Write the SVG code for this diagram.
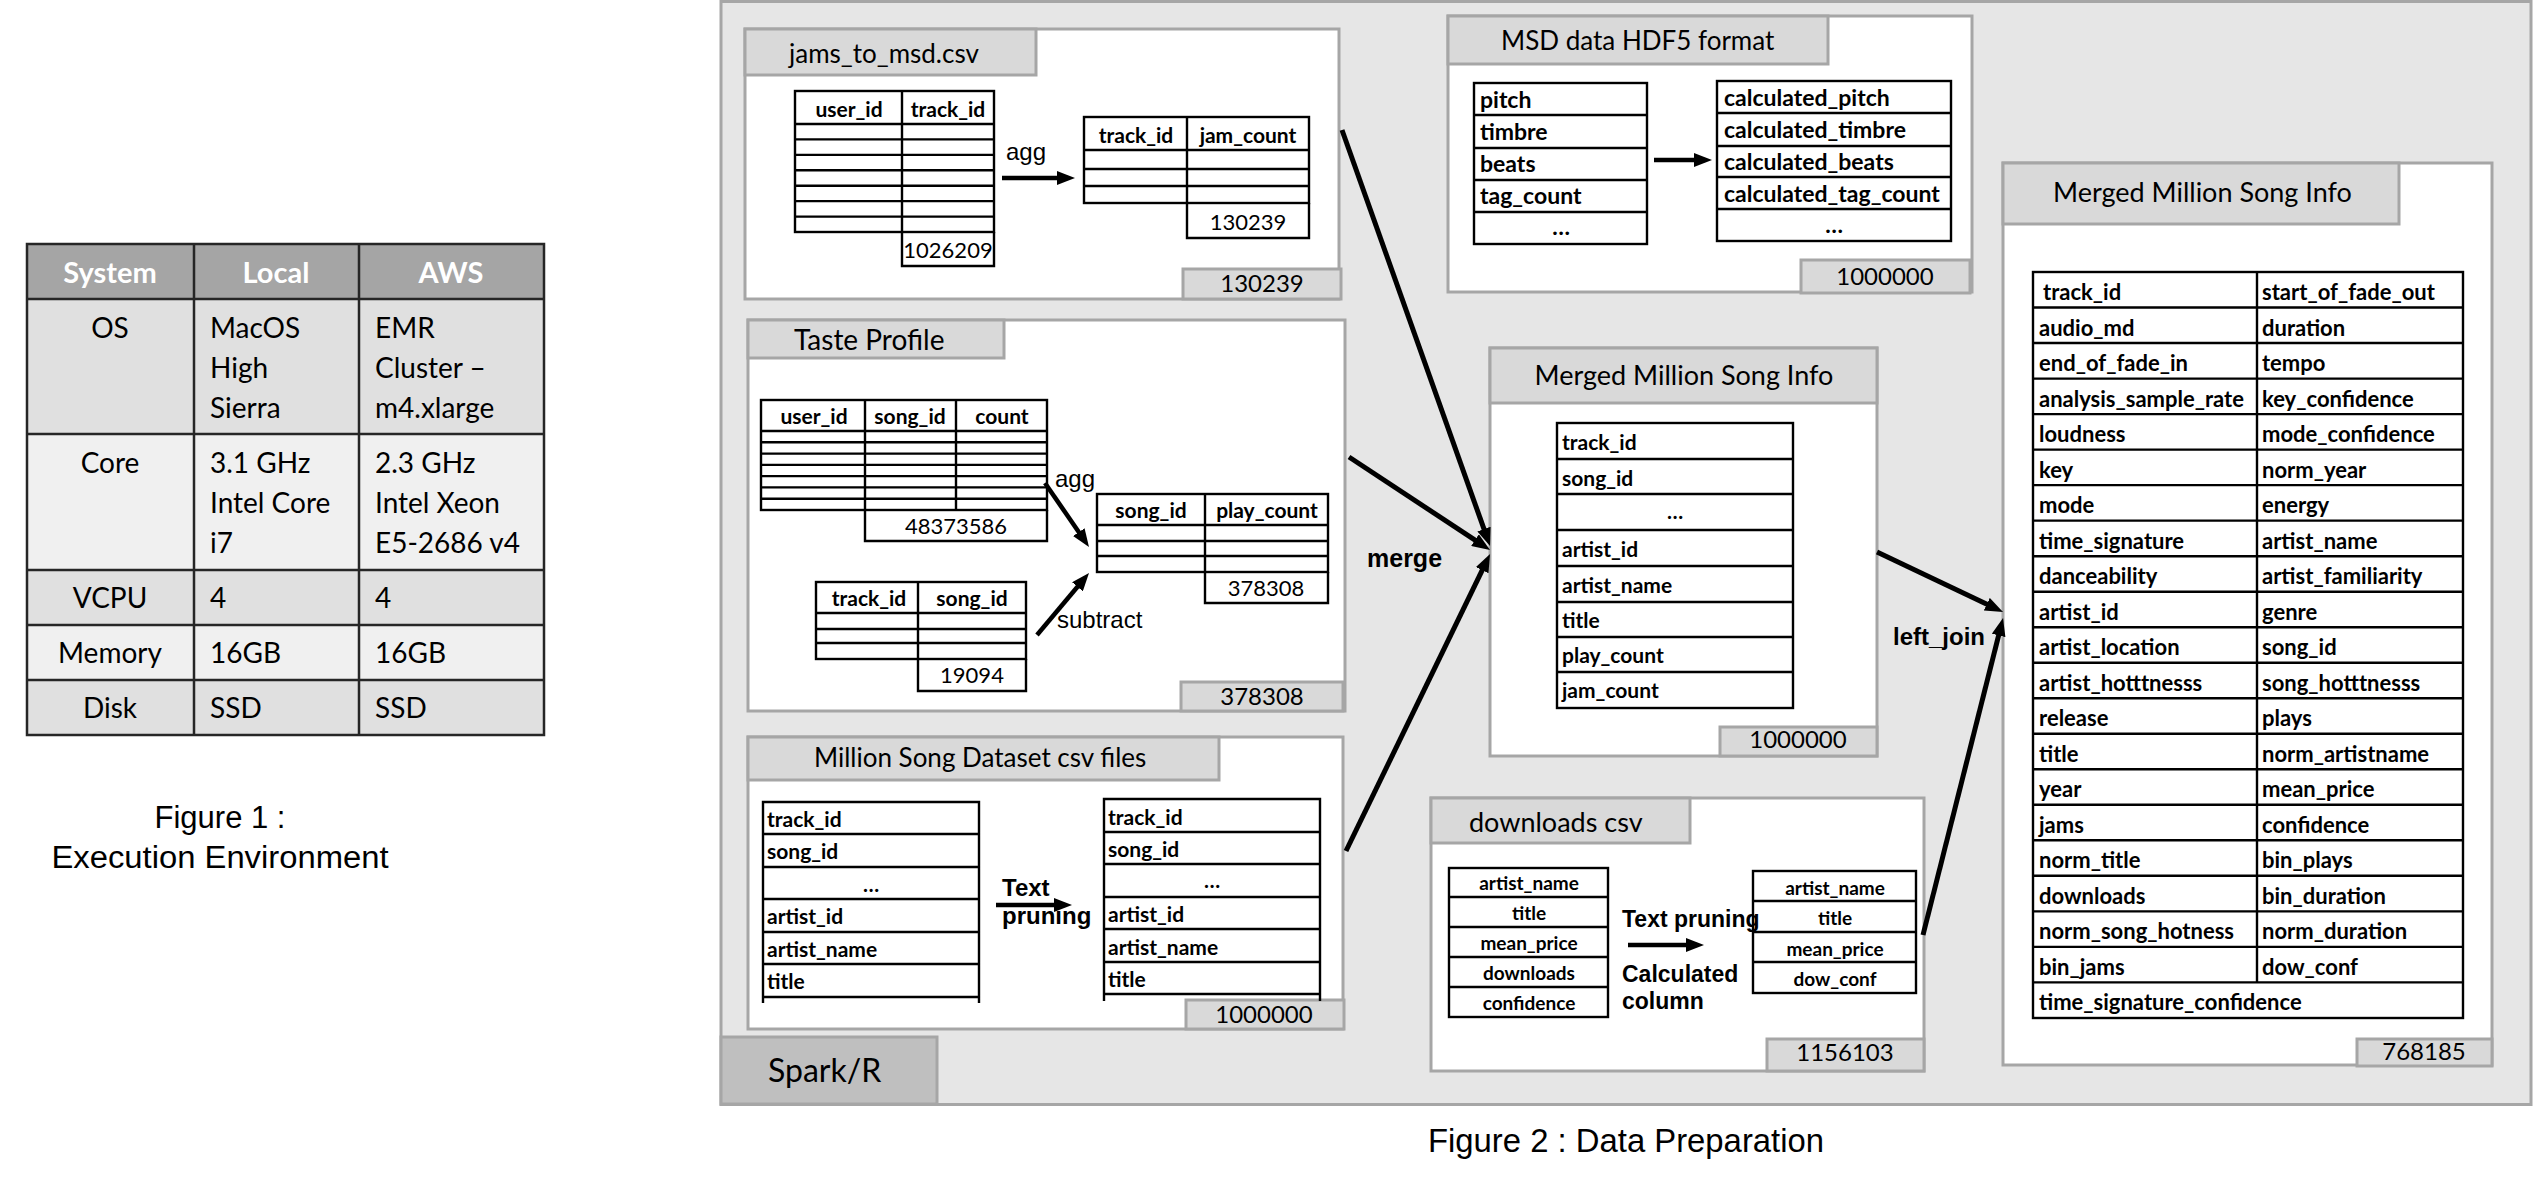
<svg xmlns="http://www.w3.org/2000/svg" width="2533" height="1182" viewBox="0 0 2533 1182">
<defs>
<style>
.c{font-family:Lato,'Open Sans','Liberation Sans',sans-serif;fill:#000}
.a{font-family:'Liberation Sans',Arial,sans-serif;fill:#000}
.b{font-weight:bold}
.mid{text-anchor:middle}
.box{fill:#fff;stroke:#a6a6a6;stroke-width:3}
.tab{fill:#d9d9d9;stroke:#a6a6a6;stroke-width:3}
.tl{fill:none;stroke:#000;stroke-width:2.4}
.t{font-size:26px}
.cnt{font-size:24px}
.num{font-size:22px}
.h{font-size:21px;font-weight:bold}
.li{font-size:21px;font-weight:bold}
.li2{font-size:23px;font-weight:bold}
.conn{stroke:#000;fill:none;stroke-linecap:butt}
.f1{fill:none;stroke:#262626;stroke-width:2.5}
</style>
<marker id="ah" viewBox="0 0 18 14" refX="6" refY="7" markerWidth="18" markerHeight="14" markerUnits="userSpaceOnUse" orient="auto">
<path d="M0,0 L18,7 L0,14 Z" fill="#000"/>
</marker>
</defs>
<rect width="2533" height="1182" fill="#fff"/>

<!-- Figure 1 table -->
<g id="fig1-table">
<rect x="27" y="244" width="517" height="55" fill="#a5a5a5"/>
<rect x="27" y="299" width="517" height="135" fill="#e0e0e0"/>
<rect x="27" y="434" width="517" height="136" fill="#f0f0f0"/>
<rect x="27" y="570" width="517" height="55" fill="#e0e0e0"/>
<rect x="27" y="625" width="517" height="55" fill="#f0f0f0"/>
<rect x="27" y="680" width="517" height="55" fill="#e0e0e0"/>
<rect class="f1" x="27" y="244" width="517" height="491"/>
<path class="f1" d="M194,244V735M359,244V735M27,299H544M27,434H544M27,570H544M27,625H544M27,680H544"/>
<g class="c" font-size="28">
<text class="b mid" x="110" y="283" font-size="29" style="fill:#fff">System</text>
<text class="b mid" x="276" y="283" font-size="29" style="fill:#fff">Local</text>
<text class="b mid" x="451" y="283" font-size="29" style="fill:#fff">AWS</text>
<text class="mid" x="110" y="338">OS</text>
<text x="210" y="338">MacOS</text><text x="210" y="378">High</text><text x="210" y="418">Sierra</text>
<text x="375" y="338">EMR</text><text x="375" y="378">Cluster –</text><text x="375" y="418">m4.xlarge</text>
<text class="mid" x="110" y="473">Core</text>
<text x="210" y="473">3.1 GHz</text><text x="210" y="513">Intel Core</text><text x="210" y="553">i7</text>
<text x="375" y="473">2.3 GHz</text><text x="375" y="513">Intel Xeon</text><text x="375" y="553">E5-2686 v4</text>
<text class="mid" x="110" y="608">VCPU</text><text x="210" y="608">4</text><text x="375" y="608">4</text>
<text class="mid" x="110" y="663">Memory</text><text x="210" y="663">16GB</text><text x="375" y="663">16GB</text>
<text class="mid" x="110" y="718">Disk</text><text x="210" y="718">SSD</text><text x="375" y="718">SSD</text>
</g>
</g>
<g id="fig1-caption" class="a" font-size="31">
<text class="a mid" x="220" y="828">Figure 1 :</text>
<text class="a mid" x="220" y="868" textLength="337" lengthAdjust="spacingAndGlyphs">Execution Environment</text>
</g>

<!-- Spark/R container -->
<g id="spark-container">
<rect x="721" y="1.5" width="1810" height="1103" fill="#e6e6e6" stroke="#a6a6a6" stroke-width="3"/>
<rect x="721" y="1037" width="216" height="67" fill="#bfbfbf" stroke="#a6a6a6" stroke-width="3"/>
<text class="c" x="768" y="1082" font-size="32">Spark/R</text>
</g>

<!-- jams_to_msd.csv -->
<g id="jams">
<rect class="box" x="745" y="29" width="594" height="270"/>
<rect class="tab" x="745" y="29" width="291" height="46"/>
<text class="c t" x="789" y="63">jams_to_msd.csv</text>
<rect class="tab" x="1183" y="269" width="158" height="30"/>
<text class="c cnt mid" x="1262" y="292">130239</text>
<rect class="tl" x="795" y="91" width="199" height="141"/>
<path class="tl" d="M902,91V266H994V232M795,124H994M795,139.4H994M795,154.9H994M795,170.3H994M795,185.7H994M795,201.1H994M795,216.6H994"/>
<text class="c h mid" x="849" y="117">user_id</text>
<text class="c h mid" x="948" y="117">track_id</text>
<text class="c num mid" x="948" y="258">1026209</text>
<rect class="tl" x="1084" y="117" width="225" height="86"/>
<path class="tl" d="M1187,117V238H1309V203M1084,150H1309M1084,169H1309M1084,186H1309"/>
<text class="c h mid" x="1136" y="143">track_id</text>
<text class="c h mid" x="1248" y="143">jam_count</text>
<text class="c num mid" x="1248" y="230">130239</text>
<text class="a" x="1006" y="160" font-size="24">agg</text>
</g>

<!-- MSD HDF5 -->
<g id="msd-hdf5">
<rect class="box" x="1448" y="16" width="524" height="276"/>
<rect class="tab" x="1448" y="16" width="380" height="48"/>
<text class="c t" x="1501" y="50">MSD data HDF5 format</text>
<rect class="tab" x="1801" y="260" width="169" height="33"/>
<text class="c cnt mid" x="1885" y="285">1000000</text>
<rect class="tl" x="1474" y="83" width="173" height="161"/>
<path class="tl" d="M1474,115H1647M1474,148H1647M1474,180H1647M1474,212H1647"/>
<text class="c li2" x="1480" y="108">pitch</text>
<text class="c li2" x="1480" y="140">timbre</text>
<text class="c li2" x="1480" y="172">beats</text>
<text class="c li2" x="1480" y="204">tag_count</text>
<text class="c li2 mid" x="1561" y="235">…</text>
<rect class="tl" x="1717" y="81" width="234" height="160"/>
<path class="tl" d="M1717,113H1951M1717,146H1951M1717,177H1951M1717,209H1951"/>
<text class="c li2" x="1724" y="106">calculated_pitch</text>
<text class="c li2" x="1724" y="138">calculated_timbre</text>
<text class="c li2" x="1724" y="170">calculated_beats</text>
<text class="c li2" x="1724" y="202">calculated_tag_count</text>
<text class="c li2 mid" x="1834" y="233">…</text>
</g>

<!-- Taste Profile -->
<g id="taste">
<rect class="box" x="748" y="320" width="597" height="391"/>
<rect class="tab" x="748" y="320" width="256" height="38"/>
<text class="c" x="794" y="350" font-size="28">Taste Profile</text>
<rect class="tab" x="1181" y="682" width="162" height="29"/>
<text class="c cnt mid" x="1262" y="705">378308</text>
<rect class="tl" x="761" y="400" width="286" height="110"/>
<path class="tl" d="M865,400V541H1047V510M956,400V510M761,431H1047M761,442.3H1047M761,453.6H1047M761,464.9H1047M761,476.1H1047M761,487.4H1047M761,498.7H1047"/>
<text class="c h mid" x="814" y="424">user_id</text>
<text class="c h mid" x="910" y="424">song_id</text>
<text class="c h mid" x="1002" y="424">count</text>
<text class="c num mid" x="956" y="534">48373586</text>
<rect class="tl" x="816" y="582" width="210" height="77"/>
<path class="tl" d="M918,582V691H1026V659M816,613H1026M816,629H1026M816,643H1026"/>
<text class="c h mid" x="869" y="606">track_id</text>
<text class="c h mid" x="972" y="606">song_id</text>
<text class="c num mid" x="972" y="683">19094</text>
<rect class="tl" x="1097" y="494" width="231" height="78"/>
<path class="tl" d="M1205,494V603H1328V572M1097,525H1328M1097,541H1328M1097,556H1328"/>
<text class="c h mid" x="1151" y="518">song_id</text>
<text class="c h mid" x="1267" y="518">play_count</text>
<text class="c num mid" x="1266" y="596">378308</text>
<text class="a" x="1055" y="487" font-size="24">agg</text>
<text class="a" x="1057" y="628" font-size="24">subtract</text>
</g>

<!-- Million Song Dataset csv files -->
<g id="msd-csv">
<rect class="box" x="748" y="737" width="595" height="292"/>
<rect class="tab" x="748" y="737" width="471" height="43"/>
<text class="c t" x="814" y="767">Million Song Dataset csv files</text>
<rect class="tab" x="1186" y="1000" width="158" height="29"/>
<text class="c cnt mid" x="1264" y="1023">1000000</text>
<path class="tl" d="M763,1003V802H979V1003M763,834H979M763,867H979M763,899H979M763,932H979M763,964H979M763,997H979"/>
<text class="c li" x="767" y="827">track_id</text>
<text class="c li" x="767" y="859">song_id</text>
<text class="c li mid" x="871" y="892">…</text>
<text class="c li" x="767" y="924">artist_id</text>
<text class="c li" x="767" y="957">artist_name</text>
<text class="c li" x="767" y="989">title</text>
<path class="tl" d="M1104,1001V799H1320V1001M1104,832H1320M1104,864H1320M1104,897H1320M1104,929H1320M1104,962H1320M1104,994H1320"/>
<text class="c li" x="1108" y="825">track_id</text>
<text class="c li" x="1108" y="857">song_id</text>
<text class="c li mid" x="1212" y="888">…</text>
<text class="c li" x="1108" y="922">artist_id</text>
<text class="c li" x="1108" y="955">artist_name</text>
<text class="c li" x="1108" y="987">title</text>
<text class="a b" x="1002" y="896" font-size="24">Text</text>
<text class="a b" x="1002" y="924" font-size="24">pruning</text>
</g>

<!-- Merged Million Song Info (middle) -->
<g id="merged-mid">
<rect class="box" x="1490" y="348" width="387" height="408"/>
<rect class="tab" x="1490" y="348" width="387" height="55"/>
<text class="c mid" x="1684" y="385" font-size="27">Merged Million Song Info</text>
<rect class="tab" x="1720" y="727" width="157" height="29"/>
<text class="c cnt mid" x="1798" y="748">1000000</text>
<rect class="tl" x="1557" y="423" width="236" height="285"/>
<path class="tl" d="M1557,459H1793M1557,494H1793M1557,530H1793M1557,566H1793M1557,602H1793M1557,637H1793M1557,672H1793"/>
<text class="c li" x="1562" y="450">track_id</text>
<text class="c li" x="1562" y="486">song_id</text>
<text class="c li mid" x="1675" y="519">…</text>
<text class="c li" x="1562" y="557">artist_id</text>
<text class="c li" x="1562" y="593">artist_name</text>
<text class="c li" x="1562" y="628">title</text>
<text class="c li" x="1562" y="663">play_count</text>
<text class="c li" x="1562" y="698">jam_count</text>
</g>

<!-- downloads csv -->
<g id="downloads">
<rect class="box" x="1431" y="798" width="493" height="273"/>
<rect class="tab" x="1431" y="798" width="259" height="45"/>
<text class="c" x="1469" y="832" font-size="27">downloads csv</text>
<rect class="tab" x="1767" y="1039" width="157" height="32"/>
<text class="c cnt mid" x="1845" y="1061">1156103</text>
<rect class="tl" x="1449" y="868" width="159" height="149"/>
<path class="tl" d="M1449,897H1608M1449,927H1608M1449,957H1608M1449,987H1608"/>
<g class="c mid" font-size="19" font-weight="bold">
<text x="1529" y="890">artist_name</text>
<text x="1529" y="920">title</text>
<text x="1529" y="950">mean_price</text>
<text x="1529" y="980">downloads</text>
<text x="1529" y="1010">confidence</text>
</g>
<rect class="tl" x="1753" y="871" width="163" height="122"/>
<path class="tl" d="M1753,901H1916M1753,932H1916M1753,962H1916"/>
<g class="c mid" font-size="19" font-weight="bold">
<text x="1835" y="895">artist_name</text>
<text x="1835" y="925">title</text>
<text x="1835" y="956">mean_price</text>
<text x="1835" y="986">dow_conf</text>
</g>
<text class="a b" x="1622" y="927" font-size="23">Text pruning</text>
<text class="a b" x="1622" y="982" font-size="23">Calculated</text>
<text class="a b" x="1622" y="1009" font-size="23">column</text>
</g>

<!-- Merged Million Song Info (final) -->
<g id="merged-final">
<rect class="box" x="2003" y="163" width="489" height="902"/>
<rect class="tab" x="2003" y="163" width="396" height="61"/>
<text class="c" x="2053" y="202" font-size="27">Merged Million Song Info</text>
<rect class="tab" x="2357" y="1039" width="135" height="27"/>
<text class="c cnt mid" x="2424" y="1060">768185</text>
<rect class="tl" x="2033" y="272" width="430" height="746"/>
<path class="tl" d="M2257,272V982.4M2033,307.5H2463M2033,343H2463M2033,378.6H2463M2033,414.1H2463M2033,449.6H2463M2033,485.1H2463M2033,520.6H2463M2033,556.2H2463M2033,591.7H2463M2033,627.2H2463M2033,662.7H2463M2033,698.2H2463M2033,733.8H2463M2033,769.3H2463M2033,804.8H2463M2033,840.3H2463M2033,875.8H2463M2033,911.4H2463M2033,946.9H2463M2033,982.4H2463"/>
<g class="c" font-size="22" font-weight="bold">
<text x="2043" y="300">track_id</text><text x="2262" y="300">start_of_fade_out</text>
<text x="2039" y="335.5">audio_md</text><text x="2262" y="335.5">duration</text>
<text x="2039" y="371">end_of_fade_in</text><text x="2262" y="371">tempo</text>
<text x="2039" y="406.6">analysis_sample_rate</text><text x="2262" y="406.6">key_confidence</text>
<text x="2039" y="442.1">loudness</text><text x="2262" y="442.1">mode_confidence</text>
<text x="2039" y="477.6">key</text><text x="2262" y="477.6">norm_year</text>
<text x="2039" y="513.1">mode</text><text x="2262" y="513.1">energy</text>
<text x="2039" y="548.6">time_signature</text><text x="2262" y="548.6">artist_name</text>
<text x="2039" y="584.2">danceability</text><text x="2262" y="584.2">artist_familiarity</text>
<text x="2039" y="619.7">artist_id</text><text x="2262" y="619.7">genre</text>
<text x="2039" y="655.2">artist_location</text><text x="2262" y="655.2">song_id</text>
<text x="2039" y="690.7">artist_hotttnesss</text><text x="2262" y="690.7">song_hotttnesss</text>
<text x="2039" y="726.2">release</text><text x="2262" y="726.2">plays</text>
<text x="2039" y="761.8">title</text><text x="2262" y="761.8">norm_artistname</text>
<text x="2039" y="797.3">year</text><text x="2262" y="797.3">mean_price</text>
<text x="2039" y="832.8">jams</text><text x="2262" y="832.8">confidence</text>
<text x="2039" y="868.3">norm_title</text><text x="2262" y="868.3">bin_plays</text>
<text x="2039" y="903.8">downloads</text><text x="2262" y="903.8">bin_duration</text>
<text x="2039" y="939.4">norm_song_hotness</text><text x="2262" y="939.4">norm_duration</text>
<text x="2039" y="974.9">bin_jams</text><text x="2262" y="974.9">dow_conf</text>
<text x="2039" y="1010.4">time_signature_confidence</text>
</g>
</g>

<!-- connectors -->
<g id="connectors">
<line class="conn" x1="1002" y1="178" x2="1063" y2="178" stroke-width="4.5" marker-end="url(#ah)"/>
<line class="conn" x1="1654" y1="160" x2="1700" y2="160" stroke-width="4.5" marker-end="url(#ah)"/>
<line class="conn" x1="996" y1="905" x2="1060" y2="905" stroke-width="4.5" marker-end="url(#ah)"/>
<line class="conn" x1="1628" y1="945" x2="1692" y2="945" stroke-width="4.5" marker-end="url(#ah)"/>
<line class="conn" x1="1045" y1="483" x2="1082.2" y2="537.1" stroke-width="4.5" marker-end="url(#ah)"/>
<line class="conn" x1="1037" y1="635" x2="1081.3" y2="582.2" stroke-width="4.5" marker-end="url(#ah)"/>
<line class="conn" x1="1342" y1="130" x2="1486" y2="534.7" stroke-width="5" marker-end="url(#ah)"/>
<line class="conn" x1="1349" y1="457" x2="1480" y2="543.4" stroke-width="5" marker-end="url(#ah)"/>
<line class="conn" x1="1346" y1="851" x2="1484.8" y2="564.8" stroke-width="5" marker-end="url(#ah)"/>
<line class="conn" x1="1877" y1="552" x2="1992.2" y2="606.8" stroke-width="5" marker-end="url(#ah)"/>
<line class="conn" x1="1923" y1="935" x2="2000.1" y2="629.6" stroke-width="5" marker-end="url(#ah)"/>
<text class="a b" x="1367" y="567" font-size="25">merge</text>
<text class="a b" x="1893" y="645" font-size="24">left_join</text>
</g>

<g id="fig2-caption">
<text class="a mid" x="1626" y="1152" font-size="33" textLength="396" lengthAdjust="spacingAndGlyphs">Figure 2 : Data Preparation</text>
</g>
</svg>
